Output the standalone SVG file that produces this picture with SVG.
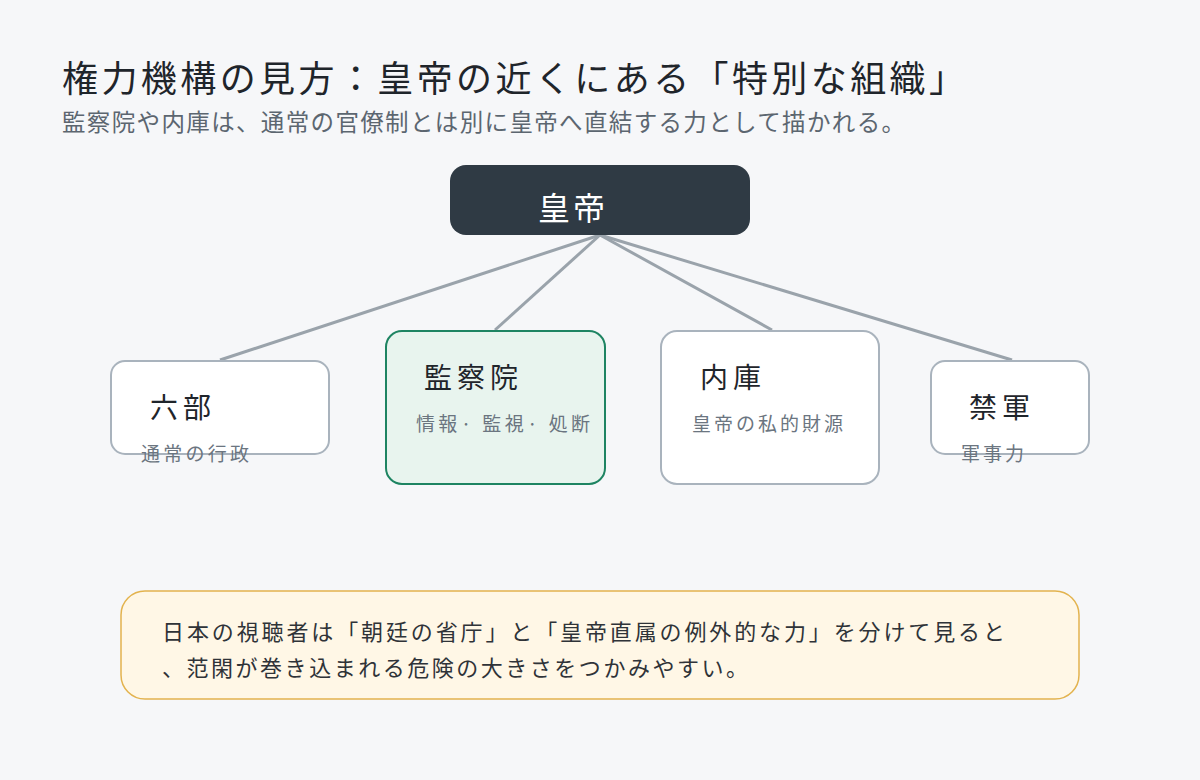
<svg xmlns="http://www.w3.org/2000/svg" width="1200" height="780" viewBox="0 0 1200 780">
<style>
text{font-family:"Noto Sans CJK JP","Noto Sans",sans-serif}
.node{fill:#fff;stroke:#a9b3bd;stroke-width:2}
.h{font-size:28px;fill:#1f252b}
.s{font-size:19px;fill:#6b7580}
.c{stroke:#9aa3ab;stroke-width:3;fill:none}
</style>
<rect width="1200" height="780" fill="#f6f7f9"/>
<text x="62" y="92" font-size="36" fill="#1f252b" textLength="903" lengthAdjust="spacing">権力機構の見方：皇帝の近くにある「特別な組織」</text>
<text x="62" y="131" font-size="23.5" fill="#5c6670" textLength="843" lengthAdjust="spacing">監察院や内庫は、通常の官僚制とは別に皇帝へ直結する力として描かれる。</text>
<g id="connectors">
<line class="c" x1="600" y1="235" x2="220" y2="360"/>
<line class="c" x1="600" y1="235" x2="495" y2="330"/>
<line class="c" x1="600" y1="235" x2="772" y2="330"/>
<line class="c" x1="600" y1="235" x2="1012" y2="360"/>
</g>
<g id="emperor"><rect x="450" y="165" width="300" height="70" rx="16" fill="#2f3a44"/><text x="538" y="220" font-size="32" fill="#fff" textLength="67" lengthAdjust="spacing">皇帝</text></g>
<g id="rikubu"><rect class="node" x="111" y="361" width="218" height="93" rx="14"/><text class="h" x="150" y="418" textLength="61" lengthAdjust="spacing">六部</text><text class="s" x="141" y="461" textLength="108" lengthAdjust="spacing">通常の行政</text></g>
<g id="kansatsuin"><rect x="386" y="331" width="219" height="153" rx="16" fill="#e8f4ee" stroke="#1e8462" stroke-width="2"/><text class="h" x="424" y="388" textLength="94" lengthAdjust="spacing">監察院</text><text class="s" x="416" y="431" textLength="174" lengthAdjust="spacing">情報· 監視· 処断</text></g>
<g id="naiko"><rect class="node" x="661" y="331" width="218" height="153" rx="16"/><text class="h" x="700" y="388" textLength="61" lengthAdjust="spacing">内庫</text><text class="s" x="692" y="431" textLength="151" lengthAdjust="spacing">皇帝の私的財源</text></g>
<g id="kingun"><rect class="node" x="931" y="361" width="158" height="93" rx="14"/><text class="h" x="969" y="418" textLength="61" lengthAdjust="spacing">禁軍</text><text class="s" x="961" y="461" textLength="63" lengthAdjust="spacing">軍事力</text></g>
<g id="note"><rect x="121" y="591" width="958" height="108" rx="24" fill="#fff7e6" stroke="#e3b34e" stroke-width="1.5"/>
<text x="162" y="640" font-size="22" fill="#2f3338" textLength="843" lengthAdjust="spacing">日本の視聴者は「朝廷の省庁」と「皇帝直属の例外的な力」を分けて見ると</text>
<text x="162" y="676" font-size="22" fill="#2f3338" textLength="586" lengthAdjust="spacing">、范閑が巻き込まれる危険の大きさをつかみやすい。</text></g>
</svg>
